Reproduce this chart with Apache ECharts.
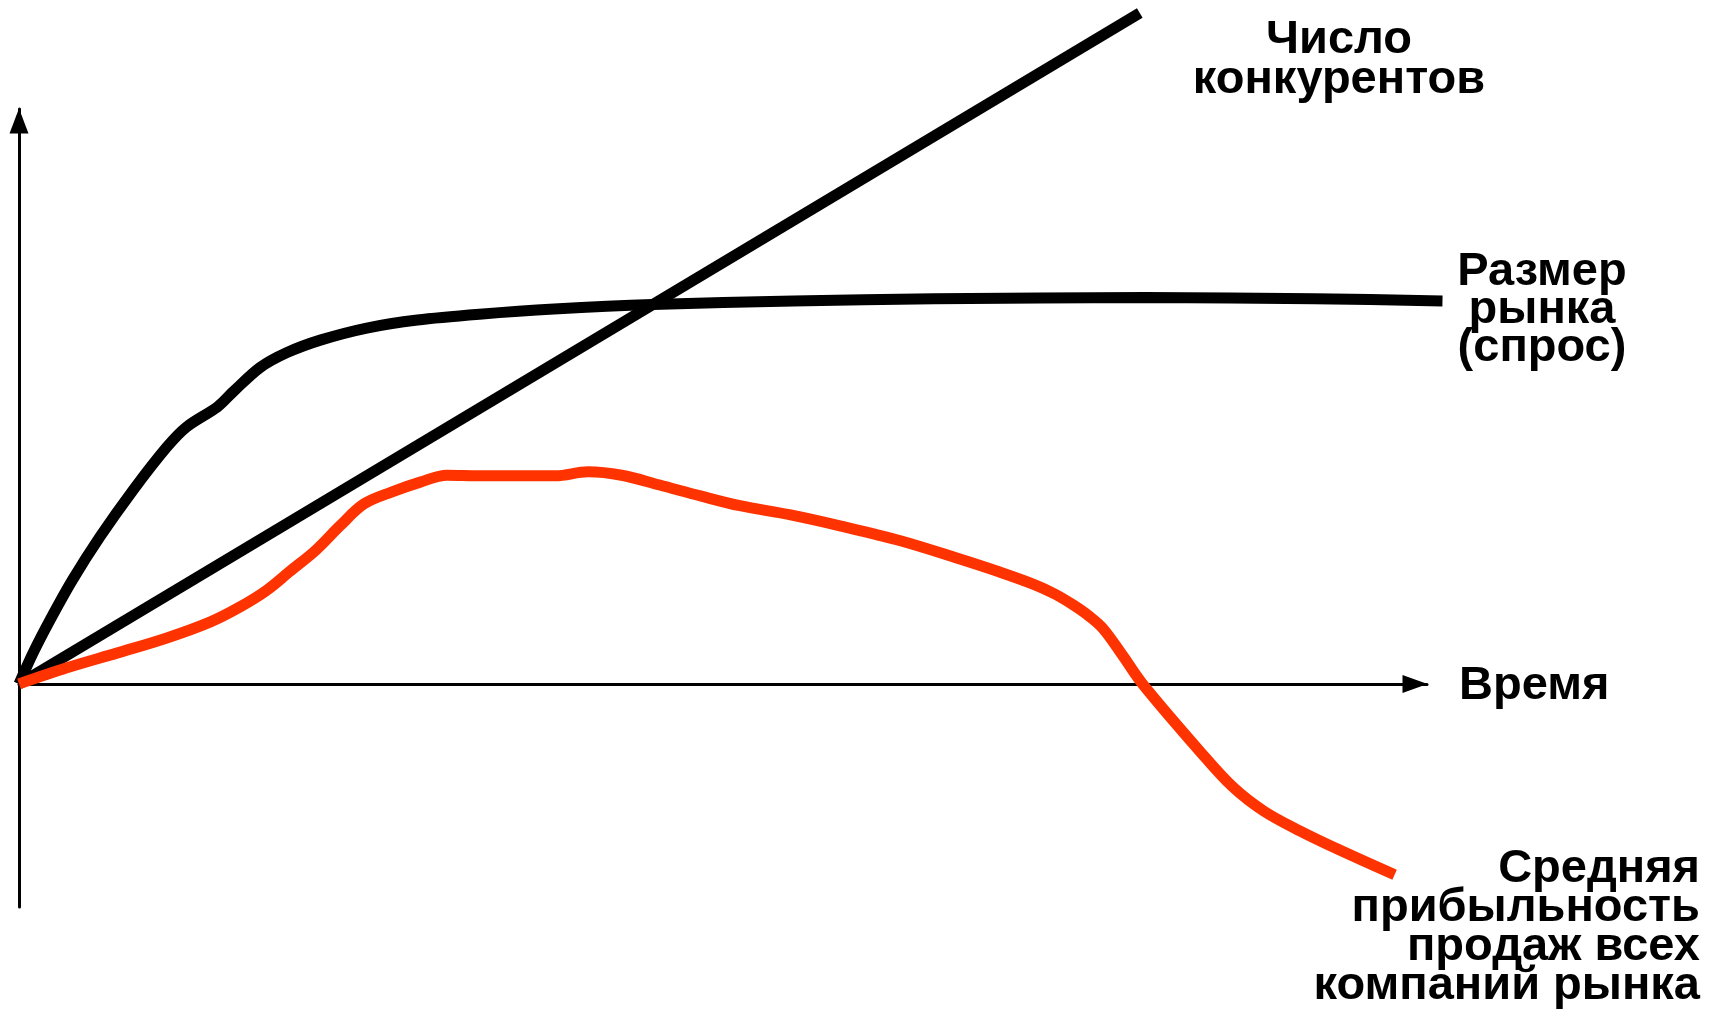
<!DOCTYPE html>
<html>
<head>
<meta charset="utf-8">
<script src="https://cdn.jsdelivr.net/npm/echarts@6/dist/echarts.min.js"></script>
<style>
	html, body { margin: 0; padding: 0; background: #fff; }
	#chart { width: 1710px; height: 1012px; }
</style>
</head>
<body>
<div id="chart"></div>
<script>
	// время: 0..100 (конец оси), значения: 0..100 (верх оси)
	const competitors = [[0, 0], [79.6, 116.7]];

	const marketSize = [
		[0, 0], [1.0, 5.4], [2.2, 11.1], [3.8, 18.1], [5.75, 25.6], [8.1, 33.7],
		[10.5, 41.2], [11.9, 44.7], [14.1, 48.2], [15.2, 50.8], [17.1, 55.0],
		[19.0, 57.6], [21.4, 59.8], [24.7, 61.9], [28.3, 63.3], [32.7, 64.3],
		[38.0, 65.2], [45.0, 66.0], [55.0, 66.6], [65.0, 67.0], [80.0, 67.2],
		[92.0, 67.0], [101.1, 66.6]
	];

	const avgProfit = [
		[0, 0], [3.4, 2.8], [7.0, 5.4], [10.5, 8.0], [13.6, 10.8], [15.7, 13.4],
		[17.6, 16.3], [19.2, 19.5], [21.1, 23.3], [22.8, 27.5], [24.5, 31.3],
		[26.5, 33.4], [28.5, 35.1], [30.4, 36.3], [32.7, 36.2], [38.1, 36.2],
		[40.4, 36.9], [42.8, 36.3], [45.5, 34.6], [48.4, 32.7], [51.2, 31.0],
		[54.8, 29.4], [58.3, 27.5], [62.6, 24.9], [66.6, 21.9], [69.6, 19.5],
		[72.2, 17.2], [73.6, 15.6], [74.9, 13.7], [76.0, 11.8], [77.0, 9.6],
		[78.4, 4.9], [79.8, 0], [83.9, -11.8], [86.2, -17.9], [88.4, -22.1],
		[91.0, -25.6], [93.8, -28.9], [97.7, -33.2]
	];

	const labels = {
		competitors: 'Число\nконкурентов',
		market: 'Размер\nрынка\n(спрос)',
		time: 'Время',
		profit: 'Средняя\nприбыльность\nпродаж всех\nкомпаний рынка'
	};

	const font = 'bold 47px "Liberation Sans", Arial, sans-serif';

	const hidden = {
		axisLine: { show: false },
		axisTick: { show: false },
		axisLabel: { show: false },
		splitLine: { show: false }
	};

	const myChart = echarts.init(document.getElementById('chart'));

	const option = {
		backgroundColor: '#fff',
		animation: false,
		grid: [
			// оси со стрелками
			{ left: 19, right: 283, top: 109, bottom: 105 },
			// область кривых (тот же масштаб, но шире)
			{ left: 19, right: 0, top: 0, bottom: 105 }
		],
		xAxis: [
			{
				type: 'value',
				gridIndex: 0,
				min: 0,
				max: 100,
				axisLine: {
					onZero: true,
					symbol: ['none', 'triangle'],
					symbolSize: [18, 25],
					symbolOffset: [0, -12],
					lineStyle: { color: '#000', width: 3 }
				},
				axisTick: { show: false },
				axisLabel: { show: false },
				splitLine: { show: false }
			},
			Object.assign({ type: 'value', gridIndex: 1, min: 0, max: 120.1 }, hidden)
		],
		yAxis: [
			{
				type: 'value',
				gridIndex: 0,
				min: -38.8,
				max: 100,
				axisLine: {
					show: true,
					onZero: true,
					symbol: ['none', 'triangle'],
					symbolSize: [19, 25],
					symbolOffset: [0, -12],
					lineStyle: { color: '#000', width: 3 }
				},
				axisTick: { show: false },
				axisLabel: { show: false },
				splitLine: { show: false }
			},
			Object.assign({ type: 'value', gridIndex: 1, min: -38.8, max: 118.96 }, hidden)
		],
		series: [
			{
				name: 'Число конкурентов',
				type: 'line',
				xAxisIndex: 1,
				yAxisIndex: 1,
				data: competitors,
				showSymbol: false,
				lineStyle: { color: '#000', width: 11 }
			},
			{
				name: 'Размер рынка',
				type: 'line',
				xAxisIndex: 1,
				yAxisIndex: 1,
				data: marketSize,
				smooth: 0.3,
				showSymbol: false,
				lineStyle: { color: '#000', width: 11 }
			},
			{
				name: 'Средняя прибыльность',
				type: 'line',
				xAxisIndex: 1,
				yAxisIndex: 1,
				data: avgProfit,
				smooth: 0.35,
				showSymbol: false,
				lineStyle: { color: '#ff3300', width: 11 }
			}
		],
		graphic: [
			{
				type: 'text',
				x: 1339, y: 20,
				style: { text: labels.competitors, font: font, fill: '#000', align: 'center', verticalAlign: 'top', lineHeight: 40 }
			},
			{
				type: 'text',
				x: 1542, y: 253,
				style: { text: labels.market, font: font, fill: '#000', align: 'center', verticalAlign: 'top', lineHeight: 38 }
			},
			{
				type: 'text',
				x: 1459, y: 686,
				style: { text: labels.time, font: font, fill: '#000', align: 'left', verticalAlign: 'middle' }
			},
			{
				type: 'text',
				x: 1700, y: 850,
				style: { text: labels.profit, font: font, fill: '#000', align: 'right', verticalAlign: 'top', lineHeight: 39 }
			}
		]
	};

	myChart.setOption(option);
</script>
</body>
</html>
